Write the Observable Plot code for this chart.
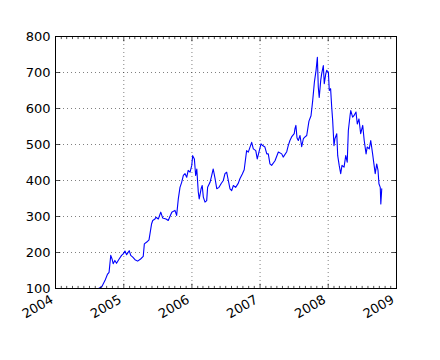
<!DOCTYPE html>
<html>
<head>
<meta charset="utf-8">
<script src="https://cdn.jsdelivr.net/npm/d3@7"></script>
<script src="https://cdn.jsdelivr.net/npm/@observablehq/plot@0.6"></script>
<style>
  html, body { margin: 0; padding: 0; background: #ffffff; }
  #chart svg, #chart svg text, #chart svg g { font-family: "DejaVu Sans", sans-serif !important; font-size: 13px !important; }
</style>
</head>
<body>
<div id="chart"></div>
<script>
// Daily close (approximate)
const dates = [
  "2004-08-19","2004-09-05","2004-09-22","2004-10-05","2004-10-14","2004-10-23","2004-10-30","2004-11-05","2004-11-14","2004-11-23",
  "2004-12-07","2004-12-20","2004-12-29","2005-01-07","2005-01-16","2005-01-30","2005-02-07","2005-02-18","2005-03-02","2005-03-16",
  "2005-04-01","2005-04-15","2005-04-21","2005-05-04","2005-05-16","2005-05-30","2005-06-05","2005-06-17","2005-06-22","2005-07-05",
  "2005-07-18","2005-07-28","2005-08-15","2005-08-27","2005-09-15","2005-10-02","2005-10-11","2005-10-20","2005-10-29","2005-11-07",
  "2005-11-16","2005-11-25","2005-12-04","2005-12-12","2005-12-22","2005-12-31","2006-01-05","2006-01-14","2006-01-21","2006-01-27",
  "2006-02-04","2006-02-09","2006-02-19","2006-02-25","2006-03-03","2006-03-12","2006-03-21","2006-03-26","2006-04-08","2006-04-17",
  "2006-04-25","2006-05-05","2006-05-14","2006-05-26","2006-06-06","2006-06-18","2006-06-27","2006-07-06","2006-07-15","2006-07-24",
  "2006-08-02","2006-08-11","2006-08-23","2006-09-06","2006-09-15","2006-09-28","2006-10-08","2006-10-21","2006-10-30","2006-11-17",
  "2006-11-26","2006-12-09","2006-12-17","2006-12-26","2007-01-06","2007-01-15","2007-01-27","2007-02-06","2007-02-14","2007-02-23",
  "2007-03-04","2007-03-22","2007-04-09","2007-04-27","2007-05-05","2007-05-24","2007-06-01","2007-06-10","2007-06-19","2007-07-03",
  "2007-07-07","2007-07-12","2007-07-18","2007-07-25","2007-08-03","2007-08-12","2007-08-21","2007-08-30","2007-09-08","2007-09-20",
  "2007-10-01","2007-10-10","2007-10-19","2007-10-28","2007-11-04","2007-11-09","2007-11-14","2007-11-22","2007-11-27","2007-12-06",
  "2007-12-11","2007-12-19","2007-12-24","2008-01-02","2008-01-07","2008-01-14","2008-01-20","2008-01-25","2008-02-01","2008-02-06",
  "2008-02-16","2008-02-21","2008-02-29","2008-03-08","2008-03-15","2008-03-26","2008-04-04","2008-04-12","2008-04-18","2008-04-27",
  "2008-05-01","2008-05-11","2008-05-18","2008-05-29","2008-06-05","2008-06-14","2008-06-23","2008-07-04","2008-07-12","2008-07-22",
  "2008-07-28","2008-08-08","2008-08-16","2008-08-26","2008-09-02","2008-09-09","2008-09-17","2008-09-24","2008-09-29","2008-10-06",
  "2008-10-09","2008-10-14"
];
const closes = [
  100,105,122,139,145,192,182,169,178,170,
  182,192,196,204,194,205,192,187,180,176,
  182,189,224,229,235,280,289,293,298,293,
  312,296,293,289,312,317,303,349,381,395,
  414,419,409,428,423,442,469,460,414,432,
  368,349,377,386,354,340,344,381,395,414,
  432,405,377,381,391,400,419,423,400,377,
  372,386,381,392,405,418,430,483,479,506,
  488,483,460,479,502,497,493,474,474,446,
  442,455,479,474,465,480,497,511,521,530,
  544,553,518,511,525,494,516,521,525,565,
  580,622,673,706,742,659,631,678,696,719,
  669,696,706,701,650,655,603,567,497,516,
  530,469,442,419,442,437,469,451,539,580,
  594,576,580,590,557,571,530,553,511,474,
  493,488,511,474,446,419,446,428,391,381,
  335,377
];

// Axis ticks
const xStart = "2004-01-01";
const xEnd = "2009-01-01";
const yearTicks = ["2004-01-01","2005-01-01","2006-01-01","2007-01-01","2008-01-01","2009-01-01"];
const yearLabels = ["2004","2005","2006","2007","2008","2009"];
const yTicks = [100, 200, 300, 400, 500, 600, 700, 800];

const data = dates.map((d, i) => ({date: new Date(d + "T00:00:00Z"), close: closes[i]}));
const years = yearTicks.map(d => new Date(d + "T00:00:00Z"));
const months = d3.utcMonth.range(new Date(xStart + "T00:00:00Z"), new Date(xEnd + "T00:00:00Z"))
  .filter(d => d.getUTCMonth() !== 0);

const tickShape = {draw(context, l) { context.moveTo(0, 0); context.lineTo(0, -l); }};
const tickStyle = {shape: tickShape, anchor: "start", stroke: "black", strokeWidth: 0.7};

const chart = Plot.plot({
  width: 440,
  height: 360,
  marginLeft: 55,
  marginRight: 44,
  marginTop: 36,
  marginBottom: 72,
  style: {fontFamily: "DejaVu Sans, sans-serif", fontSize: "13px", color: "black", background: "white"},
  x: {type: "utc", domain: [new Date(xStart + "T00:00:00Z"), new Date(xEnd + "T00:00:00Z")]},
  y: {domain: [yTicks[0], yTicks[yTicks.length - 1]]},
  marks: [
    Plot.gridX(years, {stroke: "black", strokeOpacity: 1, strokeWidth: 0.5, strokeDasharray: "1,3"}),
    Plot.gridY(yTicks, {stroke: "black", strokeOpacity: 1, strokeWidth: 0.5, strokeDasharray: "1,3"}),
    Plot.lineY(data, {x: "date", y: "close", stroke: "#0000ff", strokeWidth: 1.1}),
    Plot.frame({stroke: "black", strokeWidth: 1}),
    // inward major ticks
    Plot.vector(years, {x: d => d, frameAnchor: "bottom", rotate: 0, length: 4.4, ...tickStyle}),
    Plot.vector(years, {x: d => d, frameAnchor: "top", rotate: 180, length: 4.4, ...tickStyle}),
    Plot.vector(yTicks, {y: d => d, frameAnchor: "left", rotate: 90, length: 4.4, ...tickStyle}),
    Plot.vector(yTicks, {y: d => d, frameAnchor: "right", rotate: -90, length: 4.4, ...tickStyle}),
    // inward minor (monthly) ticks
    Plot.vector(months, {x: d => d, frameAnchor: "bottom", rotate: 0, length: 2.2, ...tickStyle}),
    Plot.vector(months, {x: d => d, frameAnchor: "top", rotate: 180, length: 2.2, ...tickStyle}),
    Plot.axisX(years, {
      tickSize: 0, tickRotate: -30, textAnchor: "end", lineAnchor: "middle",
      tickPadding: 10, dx: -3.5, label: null, fontSize: 13,
      tickFormat: (d, i) => yearLabels[i]
    }),
    Plot.axisY(yTicks, {tickSize: 0, tickPadding: 5, label: null, fontSize: 13})
  ]
});
document.getElementById("chart").appendChild(chart);
</script>
</body>
</html>
